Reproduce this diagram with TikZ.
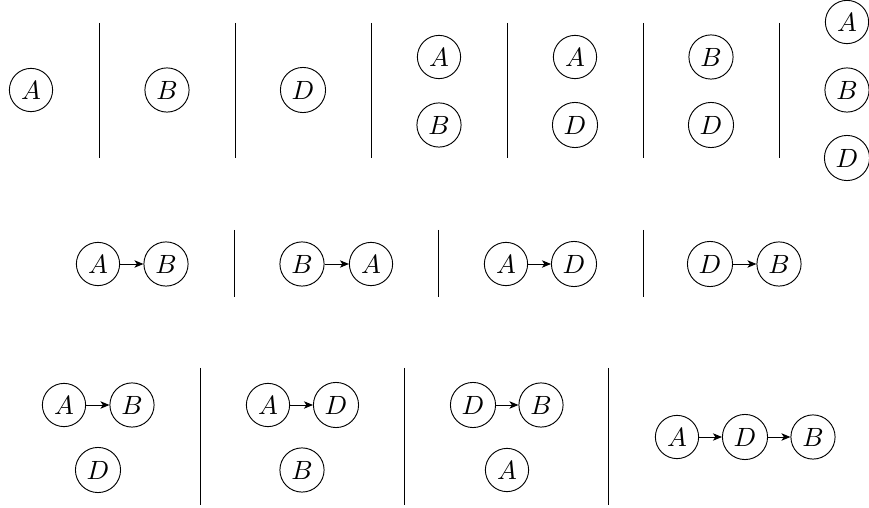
\documentclass[tikz,border=0pt]{standalone}
\usetikzlibrary{arrows.meta}
\begin{document}
\begin{tikzpicture}[x=0.3788pt,y=-0.3788pt,
  var/.style={draw,circle,inner sep=2.2pt,line width=0.35pt},
  sep/.style={line width=0.35pt},
  edge/.style={-{Stealth[length=3.4pt,width=2.8pt,inset=0.9pt]},line width=0.35pt}]
\useasboundingbox (0,0) rectangle (869,508);
% row 1
\node[var] (r1a) at (31,90) {$A$};
\node[var] (r1b) at (167,90) {$B$};
\node[var] (r1d) at (303,90) {$D$};
\node[var] (r1p1a) at (439,57) {$A$};
\node[var] (r1p1b) at (439,125) {$B$};
\node[var] (r1p2a) at (575,57) {$A$};
\node[var] (r1p2d) at (575,125) {$D$};
\node[var] (r1p3b) at (711,57) {$B$};
\node[var] (r1p3d) at (711,125) {$D$};
\node[var] (r1ta) at (847,22) {$A$};
\node[var] (r1tb) at (847,90) {$B$};
\node[var] (r1td) at (847,158) {$D$};
\foreach \x in {99,235,371,507,643,779} \draw[sep] (\x,23) -- (\x,158);
% row 2
\node[var] (q1a) at (98,264) {$A$};
\node[var] (q1b) at (166,264) {$B$};
\node[var] (q2b) at (302,264) {$B$};
\node[var] (q2a) at (371,264) {$A$};
\node[var] (q3a) at (506,264) {$A$};
\node[var] (q3d) at (574,264) {$D$};
\node[var] (q4d) at (710,264) {$D$};
\node[var] (q4b) at (779,264) {$B$};
\draw[edge] (q1a) -- (q1b);
\draw[edge] (q2b) -- (q2a);
\draw[edge] (q3a) -- (q3d);
\draw[edge] (q4d) -- (q4b);
\foreach \x in {234,438,643} \draw[sep] (\x,230) -- (\x,297);
% row 3
\node[var] (s1a) at (64,405) {$A$};
\node[var] (s1b) at (132,405) {$B$};
\node[var] (s1d) at (98,470) {$D$};
\node[var] (s2a) at (268,405) {$A$};
\node[var] (s2d) at (336,405) {$D$};
\node[var] (s2b) at (302,470) {$B$};
\node[var] (s3d) at (473,405) {$D$};
\node[var] (s3b) at (541,405) {$B$};
\node[var] (s3a) at (507,470) {$A$};
\node[var] (s4a) at (677,437) {$A$};
\node[var] (s4d) at (745,437) {$D$};
\node[var] (s4b) at (813,437) {$B$};
\draw[edge] (s1a) -- (s1b);
\draw[edge] (s2a) -- (s2d);
\draw[edge] (s3d) -- (s3b);
\draw[edge] (s4a) -- (s4d);
\draw[edge] (s4d) -- (s4b);
\foreach \x in {200,404,608} \draw[sep] (\x,368) -- (\x,505);
\end{tikzpicture}
\end{document}
